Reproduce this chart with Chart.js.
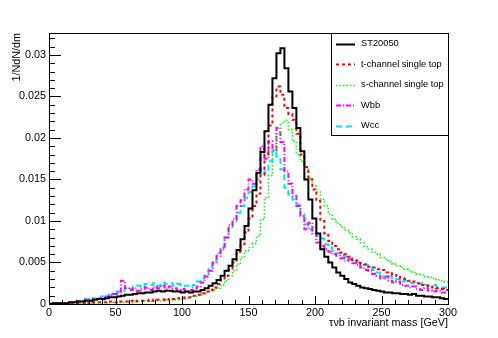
<!DOCTYPE html>
<html>
<head>
<meta charset="utf-8">
<script src="https://cdn.jsdelivr.net/npm/chart.js@4/dist/chart.umd.min.js"></script>
<style>
  body { margin: 0; background: #fff; }
  canvas { display: block; }
</style>
</head>
<body>
<canvas id="c" width="498" height="338"></canvas>
<script>
/* ── Data: 100 bins of 3 GeV, 0..300 ─────────────────────────────────────── */
const BIN_START = 0;
const BIN_WIDTH = 3;
const SERIES_NAMES = ['ST20050', 't-channel single top', 's-channel single top', 'Wbb', 'Wcc'];

const st20050 = [
  0.0000, 0.0001, 0.0001, 0.0001, 0.0001, 0.0002, 0.0002, 0.0003, 0.0003, 0.0004,
  0.0004, 0.0005, 0.0006, 0.0006, 0.0007, 0.0008, 0.0008, 0.0009, 0.0010, 0.0011,
  0.0011, 0.0012, 0.0013, 0.0013, 0.0014, 0.0014, 0.0015, 0.0016, 0.0015, 0.0016,
  0.0016, 0.0015, 0.0015, 0.0014, 0.0015, 0.0014, 0.0015, 0.0015, 0.0017, 0.0019,
  0.0022, 0.0025, 0.0029, 0.0034, 0.0040, 0.0046, 0.0054, 0.0065, 0.0078, 0.0094,
  0.0115, 0.0137, 0.0158, 0.0183, 0.0208, 0.0240, 0.0272, 0.0302, 0.0308, 0.0284,
  0.0256, 0.0236, 0.0212, 0.0184, 0.0150, 0.0126, 0.0103, 0.0085, 0.0066, 0.0057,
  0.0050, 0.0044, 0.0038, 0.0034, 0.0030, 0.0026, 0.0024, 0.0022, 0.0020, 0.0019,
  0.0018, 0.0017, 0.0016, 0.0015, 0.0014, 0.0014, 0.0013, 0.0013, 0.0012, 0.0012,
  0.0011, 0.0012, 0.0010, 0.0010, 0.0009, 0.0009, 0.0008, 0.0008, 0.0007, 0.0006
];
const tChannel = [
  0.0000, 0.0000, 0.0001, 0.0000, 0.0001, 0.0001, 0.0001, 0.0001, 0.0001, 0.0002,
  0.0001, 0.0002, 0.0002, 0.0002, 0.0002, 0.0003, 0.0002, 0.0003, 0.0003, 0.0003,
  0.0004, 0.0003, 0.0004, 0.0004, 0.0004, 0.0005, 0.0004, 0.0005, 0.0005, 0.0006,
  0.0005, 0.0006, 0.0007, 0.0007, 0.0008, 0.0008, 0.0010, 0.0011, 0.0013, 0.0015,
  0.0017, 0.0020, 0.0024, 0.0029, 0.0034, 0.0041, 0.0050, 0.0063, 0.0072, 0.0086,
  0.0103, 0.0118, 0.0133, 0.0155, 0.0180, 0.0215, 0.0250, 0.0262, 0.0252, 0.0236,
  0.0229, 0.0222, 0.0205, 0.0180, 0.0165, 0.0150, 0.0138, 0.0124, 0.0100, 0.0085,
  0.0076, 0.0070, 0.0066, 0.0062, 0.0060, 0.0057, 0.0053, 0.0052, 0.0049, 0.0048,
  0.0045, 0.0044, 0.0042, 0.0041, 0.0038, 0.0037, 0.0035, 0.0034, 0.0031, 0.0030,
  0.0028, 0.0027, 0.0025, 0.0023, 0.0022, 0.0021, 0.0020, 0.0019, 0.0018, 0.0017
];
const sChannel = [
  0.0000, 0.0000, 0.0000, 0.0001, 0.0000, 0.0001, 0.0000, 0.0001, 0.0001, 0.0001,
  0.0001, 0.0001, 0.0001, 0.0002, 0.0001, 0.0002, 0.0002, 0.0002, 0.0002, 0.0003,
  0.0002, 0.0003, 0.0003, 0.0003, 0.0004, 0.0003, 0.0004, 0.0004, 0.0004, 0.0005,
  0.0004, 0.0005, 0.0005, 0.0006, 0.0007, 0.0008, 0.0009, 0.0011, 0.0012, 0.0014,
  0.0015, 0.0017, 0.0019, 0.0023, 0.0028, 0.0034, 0.0040, 0.0048, 0.0056, 0.0064,
  0.0068, 0.0073, 0.0082, 0.0102, 0.0128, 0.0155, 0.0185, 0.0205, 0.0218, 0.0221,
  0.0210, 0.0196, 0.0180, 0.0172, 0.0165, 0.0152, 0.0142, 0.0135, 0.0126, 0.0118,
  0.0108, 0.0102, 0.0097, 0.0093, 0.0089, 0.0086, 0.0081, 0.0078, 0.0074, 0.0069,
  0.0066, 0.0062, 0.0060, 0.0056, 0.0054, 0.0051, 0.0048, 0.0046, 0.0044, 0.0042,
  0.0040, 0.0038, 0.0036, 0.0035, 0.0033, 0.0032, 0.0031, 0.0029, 0.0028, 0.0027
];
const wbb = [
  0.0000, 0.0001, 0.0000, 0.0001, 0.0001, 0.0002, 0.0003, 0.0002, 0.0004, 0.0005,
  0.0004, 0.0006, 0.0007, 0.0006, 0.0009, 0.0010, 0.0012, 0.0014, 0.0028, 0.0019,
  0.0017, 0.0019, 0.0016, 0.0018, 0.0020, 0.0017, 0.0021, 0.0019, 0.0022, 0.0018,
  0.0021, 0.0019, 0.0017, 0.0018, 0.0016, 0.0017, 0.0015, 0.0021, 0.0026, 0.0033,
  0.0040, 0.0050, 0.0058, 0.0066, 0.0080, 0.0095, 0.0102, 0.0118, 0.0125, 0.0138,
  0.0150, 0.0145, 0.0162, 0.0190, 0.0175, 0.0196, 0.0185, 0.0212, 0.0195, 0.0160,
  0.0145, 0.0130, 0.0118, 0.0106, 0.0090, 0.0098, 0.0085, 0.0074, 0.0070, 0.0066,
  0.0063, 0.0060, 0.0058, 0.0055, 0.0052, 0.0054, 0.0049, 0.0047, 0.0044, 0.0041,
  0.0040, 0.0036, 0.0034, 0.0031, 0.0033, 0.0028, 0.0026, 0.0027, 0.0023, 0.0022,
  0.0020, 0.0021, 0.0018, 0.0017, 0.0019, 0.0016, 0.0015, 0.0016, 0.0014, 0.0014
];
const wcc = [
  0.0001, 0.0000, 0.0001, 0.0001, 0.0001, 0.0002, 0.0003, 0.0004, 0.0004, 0.0006,
  0.0005, 0.0007, 0.0008, 0.0009, 0.0010, 0.0011, 0.0013, 0.0015, 0.0016, 0.0019,
  0.0018, 0.0021, 0.0022, 0.0020, 0.0024, 0.0023, 0.0025, 0.0022, 0.0026, 0.0024,
  0.0025, 0.0022, 0.0024, 0.0021, 0.0022, 0.0020, 0.0023, 0.0027, 0.0031, 0.0036,
  0.0045, 0.0052, 0.0061, 0.0068, 0.0080, 0.0090, 0.0098, 0.0110, 0.0118, 0.0128,
  0.0135, 0.0142, 0.0150, 0.0162, 0.0158, 0.0172, 0.0185, 0.0178, 0.0162, 0.0140,
  0.0132, 0.0126, 0.0120, 0.0108, 0.0096, 0.0090, 0.0086, 0.0082, 0.0079, 0.0072,
  0.0068, 0.0064, 0.0061, 0.0058, 0.0057, 0.0054, 0.0052, 0.0050, 0.0048, 0.0047,
  0.0045, 0.0041, 0.0038, 0.0033, 0.0031, 0.0033, 0.0029, 0.0030, 0.0027, 0.0028,
  0.0026, 0.0025, 0.0024, 0.0025, 0.0023, 0.0022, 0.0023, 0.0021, 0.0020, 0.0020
];

const X_MIN = 0, X_MAX = 300;
const Y_MIN = 0, Y_MAX = 0.03265;
const X_MAJOR = 50, X_MINOR = 10;
const Y_MAJOR = 0.005, Y_MINOR = 0.001;
const X_TITLE = 'τνb invariant mass [GeV]';
const Y_TITLE = '1/NdN/dm';

/* ── Helpers ─────────────────────────────────────────────────────────────── */
const FONT = '"Liberation Sans", Arial, sans-serif';

// histogram bins -> step points (low edge of each bin + closing edge)
function toSteps(values) {
  const pts = values.map((v, i) => ({ x: BIN_START + i * BIN_WIDTH, y: v }));
  pts.push({ x: BIN_START + values.length * BIN_WIDTH, y: values[values.length - 1] });
  return pts;
}

const styles = [
  { color: '#000000', width: 2,   dash: [] },
  { color: '#ff0000', width: 2,   dash: [3, 3] },
  { color: '#00ff00', width: 1.6, dash: [1.5, 2] },
  { color: '#ff00ff', width: 2,   dash: [5, 2, 1, 2] },
  { color: '#00e5ff', width: 2,   dash: [6, 4] },
];

const seriesValues = [st20050, tChannel, sChannel, wbb, wcc];
const datasets = seriesValues.map((vals, i) => ({
  label: SERIES_NAMES[i],
  data: toSteps(vals),
  stepped: 'before',
  borderColor: styles[i].color,
  borderWidth: styles[i].width,
  borderDash: styles[i].dash,
  pointRadius: 0,
  fill: false,
  order: i,
}));

/* ── ROOT-like frame, ticks, titles and legend ───────────────────────────── */
const rootFrame = {
  id: 'rootFrame',
  afterDraw(chart) {
    const { ctx, chartArea: a, scales } = chart;
    const xs = scales.x, ys = scales.y;
    ctx.save();
    ctx.strokeStyle = '#000';
    ctx.lineWidth = 1;
    ctx.setLineDash([]);
    ctx.strokeRect(Math.round(a.left) + 0.5, Math.round(a.top) + 0.5,
                   Math.round(a.right - a.left), Math.round(a.bottom - a.top));

    // y ticks (inside, from left axis)
    ctx.beginPath();
    for (let v = Y_MIN; v <= Y_MAX + 1e-9; v += Y_MINOR) {
      const major = Math.abs(v / Y_MAJOR - Math.round(v / Y_MAJOR)) < 1e-6;
      const y = Math.round(ys.getPixelForValue(v)) + 0.5;
      ctx.moveTo(a.left, y);
      ctx.lineTo(a.left + (major ? 12 : 6), y);
    }
    // x ticks (inside, from bottom axis)
    for (let v = X_MIN; v <= X_MAX + 1e-9; v += X_MINOR) {
      const major = v % X_MAJOR === 0;
      const x = Math.round(xs.getPixelForValue(v)) + 0.5;
      ctx.moveTo(x, a.bottom);
      ctx.lineTo(x, a.bottom - (major ? 8 : 4));
    }
    ctx.stroke();

    // axis titles
    ctx.fillStyle = '#000';
    ctx.font = `10.8px ${FONT}`;
    ctx.textAlign = 'right';
    ctx.textBaseline = 'middle';
    ctx.fillText(X_TITLE, a.right, 323);
    ctx.save();
    ctx.translate(17, a.top);
    ctx.rotate(-Math.PI / 2);
    ctx.fillText(Y_TITLE, 0, 0);
    ctx.restore();

    // legend box
    const lx = 331, lw = a.right - lx, ly = a.top, lh = 102;
    ctx.fillStyle = '#fff';
    ctx.fillRect(lx, ly, lw, lh);
    ctx.strokeStyle = '#000';
    ctx.strokeRect(lx + 0.5, ly + 0.5, lw, lh);
    ctx.font = `9.3px ${FONT}`;
    ctx.textAlign = 'left';
    chart.data.datasets.forEach((ds, i) => {
      const y = ly + 10.5 + i * 20.5;
      ctx.strokeStyle = ds.borderColor;
      ctx.lineWidth = ds.borderWidth;
      ctx.setLineDash(ds.borderDash);
      ctx.beginPath();
      ctx.moveTo(lx + 5, Math.round(y) + 0.5);
      ctx.lineTo(lx + 24, Math.round(y) + 0.5);
      ctx.stroke();
      ctx.fillStyle = '#000';
      ctx.fillText(ds.label, lx + 30, y);
    });
    ctx.restore();
  },
};

/* ── Chart ───────────────────────────────────────────────────────────────── */
Chart.defaults.font.family = FONT;
Chart.defaults.color = '#000';

new Chart(document.getElementById('c').getContext('2d'), {
  type: 'line',
  data: { datasets },
  options: {
    responsive: false,
    animation: false,
    events: [],
    layout: { padding: { top: 33, right: 50, left: 0, bottom: 0 } },
    plugins: { legend: { display: false }, tooltip: { enabled: false } },
    scales: {
      x: {
        type: 'linear',
        min: X_MIN,
        max: X_MAX,
        grid: { display: false, drawTicks: false },
        border: { display: false },
        afterFit: s => { s.height = 34; },
        ticks: { stepSize: X_MAJOR, padding: 3, maxRotation: 0, font: { size: 10.8 } },
      },
      y: {
        type: 'linear',
        min: Y_MIN,
        max: Y_MAX,
        grid: { display: false, drawTicks: false },
        border: { display: false },
        afterFit: s => { s.width = 49; },
        afterBuildTicks: s => {
          s.ticks = s.ticks.filter(t => Math.abs(t.value / Y_MAJOR - Math.round(t.value / Y_MAJOR)) < 1e-6);
        },
        ticks: {
          stepSize: Y_MAJOR,
          padding: 3,
          font: { size: 10.8 },
          callback: v => String(Number(v.toFixed(3))),
        },
      },
    },
  },
  plugins: [rootFrame],
});
</script>
</body>
</html>
